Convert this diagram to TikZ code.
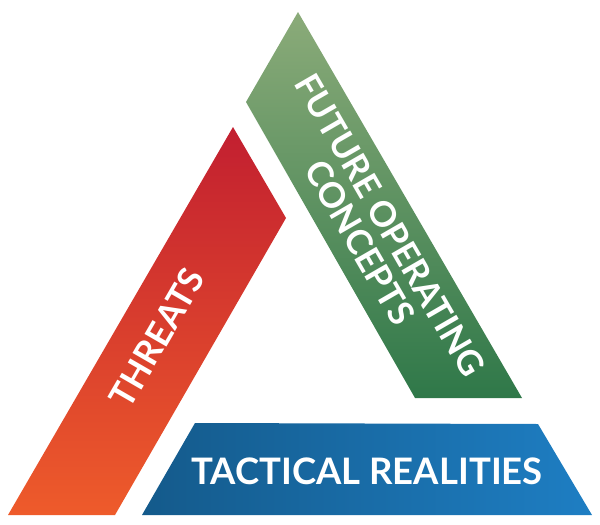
\documentclass[tikz,border=0pt]{standalone}
\usepackage{fontspec}
\setmainfont{Lato}
\definecolor{redtop}{HTML}{C21F30}
\definecolor{redbot}{HTML}{EE5B2B}
\definecolor{greentop}{HTML}{8BAB79}
\definecolor{greenbot}{HTML}{2F7849}
\definecolor{blueleft}{HTML}{145A8B}
\definecolor{blueright}{HTML}{1E7EC3}
\tikzset{
  bandtext/.style={text=white, font=\bfseries\fontsize{35}{35}\selectfont, inner sep=0pt, align=center}
}
\begin{document}
\begin{tikzpicture}[x=1pt,y=-1pt]
\useasboundingbox (0,0) rectangle (600,525);
\shade[top color=redtop, bottom color=redbot] (233,127) -- (286,218) -- (115,515) -- (8,515) -- cycle;
\shade[top color=greentop, bottom color=greenbot] (298,12) -- (246,102) -- (415,398) -- (522,398) -- cycle;
\shade[left color=blueleft, right color=blueright] (195,423) -- (538,424) -- (592,515) -- (142,515) -- cycle;
\node[bandtext, rotate=60] (threats) at (157,338) {THREATS};
\node[bandtext, rotate=-60] (foc) at (375,234) {FUTURE OPERATING\\CONCEPTS};
\node[bandtext, font=\bfseries\fontsize{36.5}{36}\selectfont] (tactical) at (367,471) {TACTICAL REALITIES};
\end{tikzpicture}
\end{document}
